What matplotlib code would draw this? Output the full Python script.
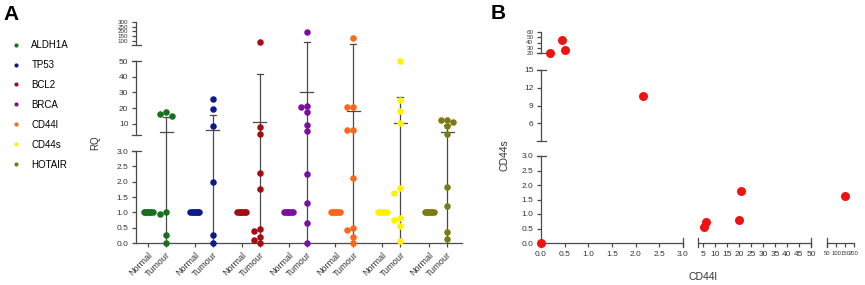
import numpy as np
import matplotlib
matplotlib.use("Agg")
import matplotlib.pyplot as plt
from matplotlib.lines import Line2D

plt.rcParams["font.family"] = ["Liberation Sans", "DejaVu Sans"]

W, H = 865, 285

# ---- data (panel A): RQ per gene ----
genes = ["ALDH1A", "TP53", "BCL2", "BRCA", "CD44l", "CD44s", "HOTAIR"]
gene_colors = ["#16701c", "#0c1a8c", "#a30d14", "#7a0fa2", "#ff6616", "#fff200", "#7c7a10"]
normal_rq = [1.0, 1.0, 1.0, 1.0, 1.0, 1.0, 1.0, 1.0]

aldh1a_tumour = [17.5, 16.5, 15.0, 1.02, 0.93, 0.27, 0.0]
tp53_tumour = [26.0, 19.5, 8.4, 2.0, 0.27, 0.0]
bcl2_tumour = [87.0, 8.0, 3.6, 2.29, 1.76, 0.46, 0.4, 0.2, 0.1, 0.0]
brca_tumour = [193.0, 21.5, 21.0, 17.8, 9.3, 5.6, 2.25, 1.3, 0.65, 0.0]
cd44l_tumour = [129.0, 20.5, 20.5, 6.2, 6.2, 2.12, 0.49, 0.42, 0.19, 0.0]
cd44s_tumour = [50.0, 25.2, 18.4, 10.4, 1.78, 1.64, 0.8, 0.75, 0.55, 0.08]
hotair_tumour = [12.8, 12.5, 11.2, 8.7, 3.6, 1.83, 1.2, 0.37, 0.12]
tumour_rq = [aldh1a_tumour, tp53_tumour, bcl2_tumour, brca_tumour,
             cd44l_tumour, cd44s_tumour, hotair_tumour]

# mean and SD bars as drawn in the figure
tumour_mean = [4.9, 6.2, 11.3, 30.4, 18.5, 10.6, 4.9]
tumour_sd = [9.5, 9.5, 30.5, 56.6, 47.5, 16.6, 4.5]

# ---- data (panel B): CD44l vs CD44s ----
cd44l_vals = [0.0, 0.2, 0.45, 0.5, 2.15, 5.5, 6.2, 20.0, 20.8, 150.0]
cd44s_vals = [0.0, 20.5, 44.8, 25.7, 10.6, 0.55, 0.72, 0.78, 1.78, 1.62]

GRAY = "#4a4a4a"
TXT = "#333333"


def a_y(v):
    # broken y axis of panel A -> pixel height above the baseline
    if v <= 3:
        return v / 3 * 92
    if v <= 50:
        return 108 + (v - 3) / 47 * 74
    if v < 55:
        return 182 + (v - 50) / 5 * 16
    return 198 + (v - 55) / 245 * 23


def b_x(v):
    if v <= 3:
        return v / 3 * 142
    if v <= 50:
        return 157 + (v - 3) / 47 * 113
    return 286 + (v - 50) / 150 * 27


def b_y(v):
    if v <= 3:
        return v / 3 * 87
    if v <= 15:
        return 102 + (v - 3) / 12 * 71
    if v < 20:
        return 173 + (v - 15) / 5 * 17
    return 190 + (v - 20) / 40 * 21


def swarm(ys, d=6.0, px=18.0):
    # simple beeswarm, offsets returned in x units
    placed, offs = [], []
    for y in ys:
        for k in range(40):
            o = 0 if k == 0 else ((k + 1) // 2) * (-1 if k % 2 else 1) * d / 2
            if all((o - po) ** 2 + (y - py) ** 2 >= d * d * 0.9 for po, py in placed):
                break
        placed.append((o, y))
        offs.append(o / px)
    return np.array(offs)


fig = plt.figure(figsize=(W / 100, H / 100), dpi=100)

# ================= Panel A =================
axA = fig.add_axes([136 / W, 42 / H, 326 / W, 221 / H])
unit = 18.0  # px per x unit
x0, x1 = -0.67, 17.43
axA.set_xlim(x0, x1)
axA.set_ylim(0, 221)
for s in ["left", "top", "right"]:
    axA.spines[s].set_visible(False)
axA.spines["bottom"].set_color(GRAY)
axA.spines["bottom"].set_linewidth(0.9)

pos_n = np.arange(7) * 2.6
pos_t = pos_n + 1.0

for i, g in enumerate(genes):
    c = gene_colors[i]
    # normal cluster
    ny = [a_y(v) for v in normal_rq]
    nx = pos_n[i] + np.linspace(-0.25, 0.25, len(normal_rq))
    axA.scatter(nx, ny, s=22, color=c, linewidths=0, zorder=3, clip_on=False)
    # tumour error bars
    top = a_y(tumour_mean[i] + tumour_sd[i])
    mid = a_y(tumour_mean[i])
    axA.plot([pos_t[i], pos_t[i]], [0, top], color=GRAY, lw=0.9, zorder=1)
    axA.plot([pos_t[i] - 3 / unit, pos_t[i] + 3 / unit], [top, top], color=GRAY, lw=0.9, zorder=1)
    axA.plot([pos_t[i] - 6.5 / unit, pos_t[i] + 6.5 / unit], [mid, mid], color=GRAY, lw=0.9, zorder=1)
    # tumour points
    ty = [a_y(v) for v in tumour_rq[i]]
    tx = pos_t[i] + swarm(ty)
    axA.scatter(tx, ty, s=22, color=c, linewidths=0, zorder=3, clip_on=False)

# broken left axis
for lo, hi in [(0, 92), (108, 182), (198, 221)]:
    axA.plot([x0, x0], [lo, hi], color=GRAY, lw=0.9, clip_on=False)
for yc in [92, 108, 182, 198]:
    axA.plot([x0 - 4 / unit, x0 + 5 / unit], [yc, yc], color=GRAY, lw=0.9, clip_on=False)

a_ticks = [0, 0.5, 1.0, 1.5, 2.0, 2.5, 3.0, 10, 20, 30, 40, 50, 100, 150, 200, 250, 300]
a_labels = ["0.0", "0.5", "1.0", "1.5", "2.0", "2.5", "3.0", "10", "20", "30", "40", "50",
            "100", "150", "200", "250", "300"]
axA.set_yticks([a_y(v) for v in a_ticks])
axA.set_yticklabels(a_labels)
axA.tick_params(axis="y", length=3, width=0.9, color=GRAY, labelsize=6, pad=2.5, labelcolor=TXT)
for lab in axA.get_yticklabels()[-5:]:
    lab.set_fontsize(4.5)

xt = np.ravel(np.column_stack([pos_n, pos_t]))
axA.set_xticks(xt)
axA.set_xticklabels(["Normal", "Tumour"] * 7, rotation=45, ha="right", va="top",
                    rotation_mode="anchor", fontsize=6.5)
axA.tick_params(axis="x", length=3, width=0.9, color=GRAY, pad=2.5, labelcolor=TXT)

fig.text(95 / W, 1 - 143 / H, "RQ", rotation=90, ha="center", va="center", fontsize=7, color=TXT)

handles = [Line2D([], [], marker="o", ls="", color=c, markersize=3.0, markeredgewidth=0)
           for c in gene_colors]
fig.legend(handles, genes, loc="upper left", bbox_to_anchor=(11 / W, 1 - 40 / H),
           frameon=False, fontsize=7, borderpad=0, borderaxespad=0, handlelength=1.0,
           handletextpad=1.1, labelspacing=1.02)

fig.text(3 / W, 1 - 20 / H, "A", fontsize=15, fontweight="bold")
fig.text(491 / W, 1 - 19 / H, "B", fontsize=15, fontweight="bold")

# ================= Panel B =================
axB = fig.add_axes([541 / W, 42 / H, 314 / W, 211 / H])
axB.set_xlim(0, 314)
axB.set_ylim(0, 211)
for s in axB.spines.values():
    s.set_visible(False)

axB.scatter([b_x(v) for v in cd44l_vals], [b_y(v) for v in cd44s_vals],
            s=42, color="#f01212", linewidths=0, zorder=3, clip_on=False)

for lo, hi in [(0, 142), (157, 270), (286, 313)]:
    axB.plot([lo, hi], [0, 0], color=GRAY, lw=0.9, clip_on=False)
for xc in [142, 157, 270, 286]:
    axB.plot([xc, xc], [-4, 5], color=GRAY, lw=0.9, clip_on=False)
for lo, hi in [(0, 87), (102, 173), (190, 211)]:
    axB.plot([0, 0], [lo, hi], color=GRAY, lw=0.9, clip_on=False)
for yc in [87, 102, 173, 190]:
    axB.plot([-4, 5], [yc, yc], color=GRAY, lw=0.9, clip_on=False)

bx_ticks = [0, 0.5, 1.0, 1.5, 2.0, 2.5, 3.0, 5, 10, 15, 20, 25, 30, 35, 40, 45, 50,
            50.001, 100, 150, 200]
bx_labels = ["0.0", "0.5", "1.0", "1.5", "2.0", "2.5", "3.0", "5", "10", "15", "20", "25",
             "30", "35", "40", "45", "50", "50", "100", "150", "200"]
bx_pos = [b_x(v) for v in bx_ticks]
bx_pos[-4] = 286
axB.set_xticks(bx_pos)
axB.set_xticklabels(bx_labels)
axB.tick_params(axis="x", length=3, width=0.9, color=GRAY, labelsize=6, pad=2.5, labelcolor=TXT)
for lab in axB.get_xticklabels()[-4:]:
    lab.set_fontsize(4.2)

by_ticks = [0, 0.5, 1.0, 1.5, 2.0, 2.5, 3.0, 6, 9, 12, 15, 20, 30, 40, 50, 60]
by_labels = ["0.0", "0.5", "1.0", "1.5", "2.0", "2.5", "3.0", "6", "9", "12", "15",
             "20", "30", "40", "50", "60"]
axB.set_yticks([b_y(v) for v in by_ticks])
axB.set_yticklabels(by_labels)
axB.tick_params(axis="y", length=3, width=0.9, color=GRAY, labelsize=6, pad=2.5, labelcolor=TXT)
for lab in axB.get_yticklabels()[-5:]:
    lab.set_fontsize(4.5)

fig.text(703 / W, 1 - 277 / H, "CD44l", ha="center", va="center", fontsize=7.5, color=TXT)
fig.text(505 / W, 1 - 155 / H, "CD44s", rotation=90, ha="center", va="center", fontsize=7.5, color=TXT)

fig.savefig("out.png", dpi=100)
